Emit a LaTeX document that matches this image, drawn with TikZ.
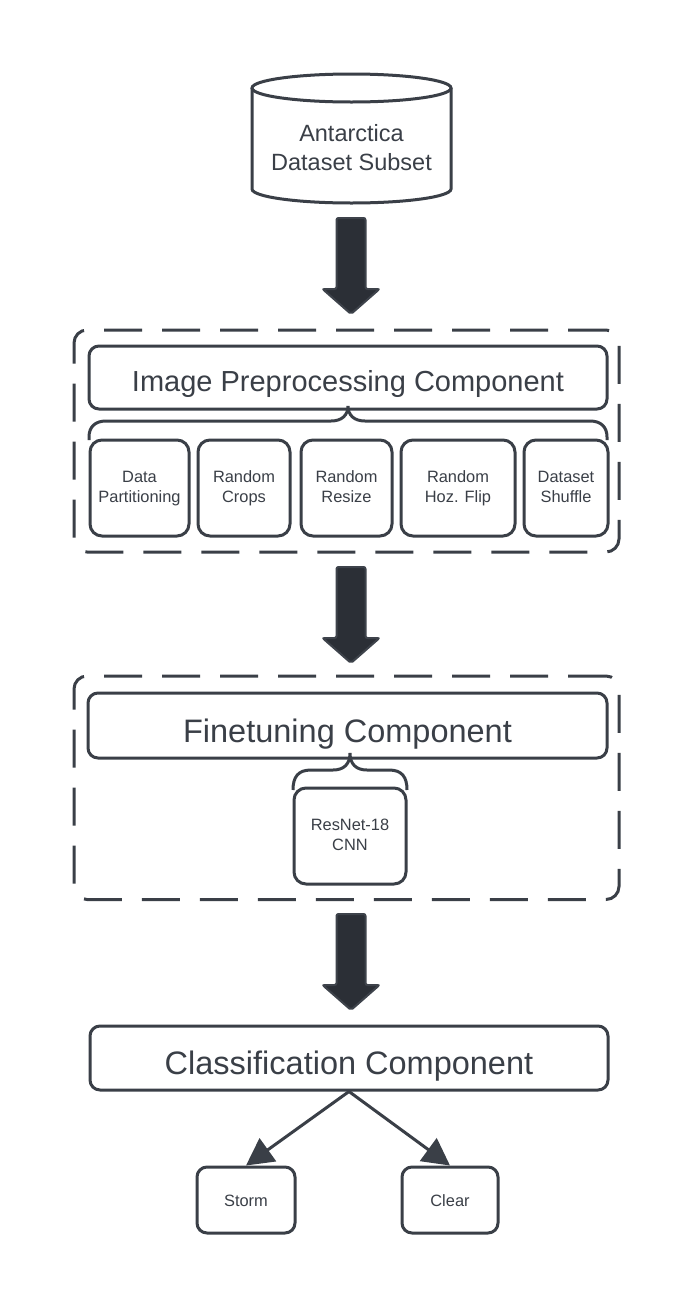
\documentclass[tikz,border=0pt]{standalone}
\usepackage{fontspec}
\setmainfont{Liberation Sans}
\usetikzlibrary{arrows.meta}
\definecolor{ink}{RGB}{58,63,71}
\definecolor{arrowfill}{RGB}{43,47,54}
\definecolor{arrowedge}{RGB}{62,67,75}
\newcommand\ftPre{\fontsize{29}{35}\selectfont}
\newcommand\ftBig{\fontsize{32.5}{39}\selectfont}
\newcommand\ftSmall{\fontsize{16.4}{20}\selectfont}
\newcommand\ftDb{\fontsize{23.5}{28.3}\selectfont}
\tikzset{
  box/.style={draw=ink, line width=3pt, rounded corners=10pt, inner sep=0pt, text=ink, align=center},
  subbox/.style={box, rounded corners=12pt, minimum height=96pt, font=\ftSmall},
  leafbox/.style={box, minimum height=66pt, font=\ftSmall, text height=14pt, text depth=2pt},
  group/.style={draw=ink, line width=3pt, rounded corners=13pt, dash pattern=on 38pt off 20pt, inner sep=0pt},
  bracepath/.style={draw=ink, line width=3pt},
  conn/.style={draw=ink, line width=3pt, -{Triangle[length=27pt,width=28pt]}},
  fatarrow/.pic={\draw[draw=arrowedge, fill=arrowfill, line width=2pt, rounded corners=2pt]
     (-14.5,0) -- (14.5,0) -- (14.5,71) -- (28.5,71) -- (0,96) -- (-28.5,71) -- (-14.5,71) -- cycle;}
}
\begin{document}
\begin{tikzpicture}[x=1pt,y=-1pt]
\useasboundingbox[fill=white] (0,0) rectangle (696,1307);

% database cylinder
\draw[ink, line width=3pt] (351.5,88) ellipse [x radius=99.5pt, y radius=14pt];
\draw[ink, line width=3pt] (252,88) -- (252,189) arc[start angle=180, end angle=360, x radius=99.5pt, y radius=14pt] -- (451,88);
\node[font=\ftDb, text=ink, align=center, inner sep=0pt] (db) at (351.5,150.2) {Antarctica\strut\\Dataset Subset\strut};

% arrow 1
\coordinate (a1) at (351,218);
\pic at (a1) {fatarrow};

% preprocessing group
\node[group, minimum width=545pt, minimum height=222pt] (g1) at (346.5,441) {};
\node[box, minimum width=518pt, minimum height=63pt, font=\ftPre, text height=32.4pt, text depth=4pt] (pre) at (348,377.5) {Image Preprocessing Component};
\node[subbox, minimum width=99pt] (s1) at (139.5,488) {Data\strut\\Partitioning\strut};
\node[subbox, minimum width=92pt] (s2) at (244,488) {Random\strut\\Crops\strut};
\node[subbox, minimum width=91pt] (s3) at (346.5,488) {Random\strut\\Resize\strut};
\node[subbox, minimum width=114pt] (s4) at (458,488) {Random\strut\\Hoz. Flip\strut};
\node[subbox, minimum width=84pt] (s5) at (566,488) {Dataset\strut\\Shuffle\strut};
\draw[bracepath] (89,440) -- (89,437) .. controls (89,427) and (95,421) .. (106,421) -- (331,421)
  .. controls (342,421) and (348,415) .. (348,406)
  .. controls (348,415) and (354,421) .. (365,421) -- (590,421)
  .. controls (601,421) and (607,427) .. (607,437) -- (607,440);

% arrow 2
\coordinate (a2) at (351,567);
\pic at (a2) {fatarrow};

% finetuning group
\node[group, minimum width=545pt, minimum height=223.5pt] (g2) at (346.5,787.75) {};
\node[box, minimum width=519pt, minimum height=65pt, font=\ftBig, text height=38.4pt, text depth=4pt] (fine) at (347.5,725.5) {Finetuning Component};
\node[subbox, minimum width=112pt] (res) at (350,836) {ResNet-18\strut\\CNN\strut};
\draw[bracepath] (293,790) .. controls (293,777) and (298,770) .. (311,770) -- (333,770)
  .. controls (344,770) and (350,764) .. (350,753)
  .. controls (350,764) and (356,770) .. (367,770) -- (389,770)
  .. controls (402,770) and (407,777) .. (407,790);

% arrow 3
\coordinate (a3) at (351,914);
\pic at (a3) {fatarrow};

% classification
\node[box, minimum width=518pt, minimum height=64pt, font=\ftBig, text height=37.4pt, text depth=4pt] (class) at (349,1058) {Classification Component};
\node[leafbox, minimum width=98pt] (storm) at (246,1200) {Storm};
\node[leafbox, minimum width=96pt] (clear) at (450,1200) {Clear};
\draw[conn] (class.south) -- (storm.north);
\draw[conn] (class.south) -- (clear.north);
\end{tikzpicture}
\end{document}
